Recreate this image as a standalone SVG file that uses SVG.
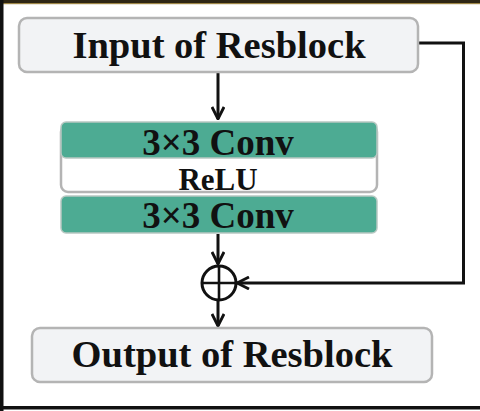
<svg xmlns="http://www.w3.org/2000/svg" width="480" height="411" viewBox="0 0 480 411">
<defs>
<style>
.box{fill:#f2f3f5;stroke:#b4b4b4;stroke-width:2.5}
.conv{fill:#4dab93;stroke:#b8c8c2;stroke-width:1.5}
.relu{fill:#ffffff;stroke:#b4b4b4;stroke-width:2.5}
.t{font-family:"Liberation Serif","Times New Roman",serif;font-weight:bold;fill:#111;text-anchor:middle}
.ln{fill:none;stroke:#111;stroke-width:3}
</style>
<marker id="ah" viewBox="0 0 14 14" refX="13" refY="7" markerWidth="14" markerHeight="14" markerUnits="userSpaceOnUse" orient="auto">
<path d="M1,1 L13,7 L1,13" fill="none" stroke="#111" stroke-width="2.8"/>
</marker>
</defs>
<rect x="0" y="0" width="480" height="411" fill="#ffffff"/>
<rect x="0" y="0" width="480" height="3" fill="#2e2614"/>
<rect x="0" y="3" width="480" height="1.2" fill="#9c8445"/>
<rect x="0" y="0" width="3.5" height="411" fill="#111"/>
<rect x="0" y="406" width="480" height="3.5" fill="#111"/>
<g id="connectors">
<line class="ln" x1="218" y1="73" x2="218" y2="119" marker-end="url(#ah)"/>
<line class="ln" x1="218" y1="234" x2="218" y2="264" marker-end="url(#ah)"/>
<line class="ln" x1="218" y1="301" x2="218" y2="326" marker-end="url(#ah)"/>
<polyline class="ln" points="419,43 463.5,43 463.5,283 237,283" marker-end="url(#ah)"/>
</g>
<g id="input">
<rect class="box" x="19" y="18" width="399" height="54" rx="8"/>
<text class="t" x="219" y="58" font-size="38.5">Input of Resblock</text>
</g>
<g id="relu">
<rect class="relu" x="61" y="125" width="316" height="67" rx="7"/>
<text class="t" x="218" y="190" font-size="31">ReLU</text>
</g>
<g id="conv1">
<rect class="conv" x="61" y="122" width="316" height="36" rx="5"/>
<text class="t" x="218" y="155" font-size="37">3×3 Conv</text>
</g>
<g id="conv2">
<rect class="conv" x="61" y="196" width="316" height="37" rx="5"/>
<text class="t" x="218" y="228" font-size="37">3×3 Conv</text>
</g>
<g id="add">
<circle cx="219" cy="283" r="17" fill="#fff" stroke="#111" stroke-width="3"/>
<line x1="202" y1="283" x2="236" y2="283" stroke="#111" stroke-width="2.6"/>
<line x1="219" y1="266" x2="219" y2="300" stroke="#111" stroke-width="2.6"/>
</g>
<g id="output">
<rect class="box" x="32" y="328" width="400" height="54" rx="8"/>
<text class="t" x="232" y="367" font-size="38.5">Output of Resblock</text>
</g>
</svg>
